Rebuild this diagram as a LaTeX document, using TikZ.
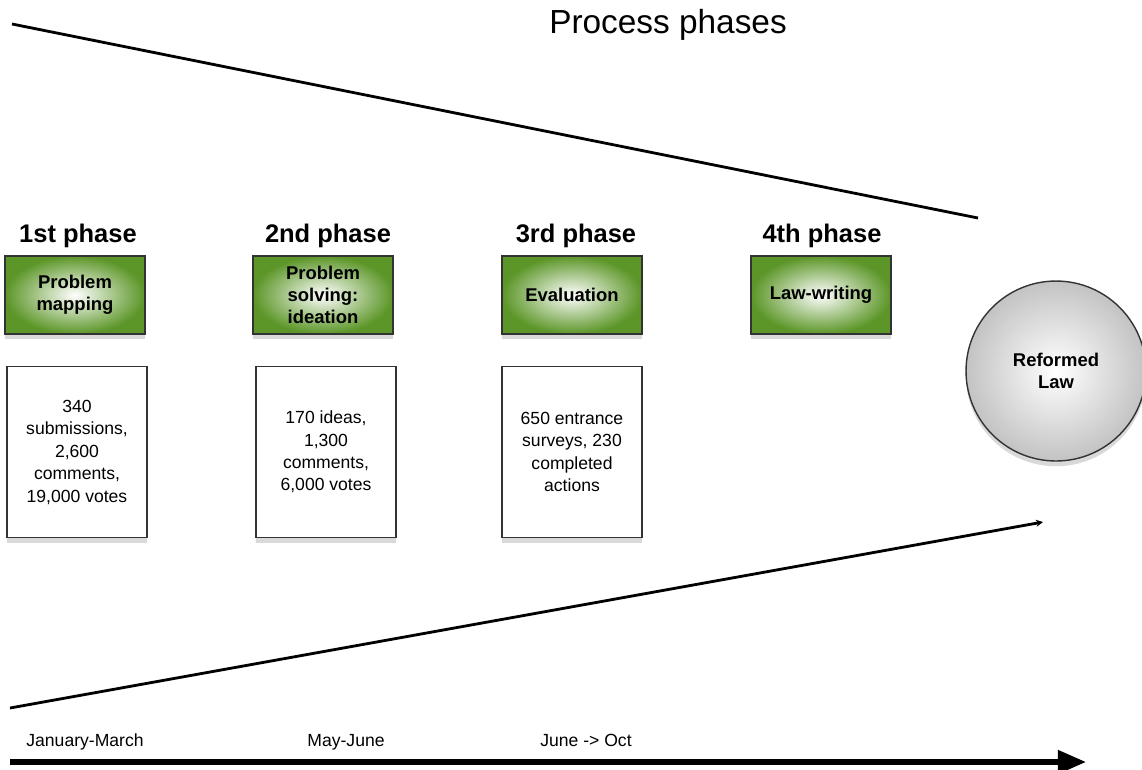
\documentclass[tikz,border=0pt]{standalone}
\usepackage{fontspec}
\setmainfont{Liberation Sans}
\usetikzlibrary{shadows,arrows.meta,positioning}

\definecolor{phasegreen}{RGB}{92,150,40}
\definecolor{lawgray}{RGB}{195,195,195}

\begin{document}
\begin{tikzpicture}[x=0.02cm, y=-0.02cm,
            phase/.style={rectangle, draw=black!80, line width=0.8pt, minimum width=2.8cm, minimum height=1.56cm, inner color=white, outer color=phasegreen, text centered, font=\fontsize{10.5}{12.5}\selectfont\bfseries, align=center, drop shadow={shadow xshift=0pt, shadow yshift=-3pt, opacity=0.3}},
            stats/.style={rectangle, draw=black!80, line width=0.8pt, fill=white, minimum width=2.8cm, minimum height=3.42cm, text centered, font=\fontsize{10}{12.8}\selectfont, align=center, drop shadow={shadow xshift=0pt, shadow yshift=-3pt, opacity=0.3}},
            heading/.style={font=\fontsize{14.5}{17}\selectfont\bfseries},
            when/.style={anchor=base, font=\fontsize{10}{12}\selectfont},
            funnel/.style={line width=1.6pt},
            arrow/.style={-{Triangle[length=16pt,width=13pt]}, line width=3pt}
        ]
            \useasboundingbox (0,0) rectangle (1142,769);

            \node[font=\fontsize{19}{22}\selectfont] (title) at (668,25) {Process phases};

            % phase headings
            \node[heading] (head1) at (78,236) {1st phase};
            \node[heading] (head2) at (328,236) {2nd phase};
            \node[heading] (head3) at (576,236) {3rd phase};
            \node[heading] (head4) at (822,236) {4th phase};

            \node[phase] (mapping) at (75,295) {Problem\\mapping};
            \node[phase] (ideation) at (323,295) {Problem\\solving:\\ideation};
            \node[phase] (evaluation) at (572,295) {Evaluation};
            \node[phase] (lawwriting) at (821,295) {Law-writing};

            \node[stats] (stats1) at (77,452) {340\\submissions,\\2,600\\comments,\\19,000 votes};
            \node[stats] (stats2) at (326,452) {170 ideas,\\1,300\\comments,\\6,000 votes};
            \node[stats] (stats3) at (572,452) {650 entrance\\surveys, 230\\completed\\actions};

            \node[circle, draw=black!80, line width=0.8pt, minimum size=3.6cm, inner color=white, outer color=lawgray, font=\fontsize{10.5}{12.5}\selectfont\bfseries, align=center, drop shadow={shadow xshift=0pt, shadow yshift=-3pt, opacity=0.3}] (law) at (1056,371) {Reformed\\Law};

            % funnel lines
            \coordinate (topstart) at (12,24);
            \coordinate (topend) at (978,218);
            \coordinate (botstart) at (10,708);
            \coordinate (botend) at (1043,522);
            \draw[funnel] (topstart) -- (topend);
            \draw[funnel, -{Stealth[length=4pt,width=4pt]}] (botstart) -- (botend);

            % timeline
            \node[when] (jan) at (85,746) {January-March};
            \node[when] (may) at (346,746) {May-June};
            \node[when] (june) at (586,746) {June -> Oct};
            \coordinate (tstart) at (10,762);
            \coordinate (tend) at (1086,762);
            \draw[arrow] (tstart) -- (tend);
        \end{tikzpicture}
\end{document}
